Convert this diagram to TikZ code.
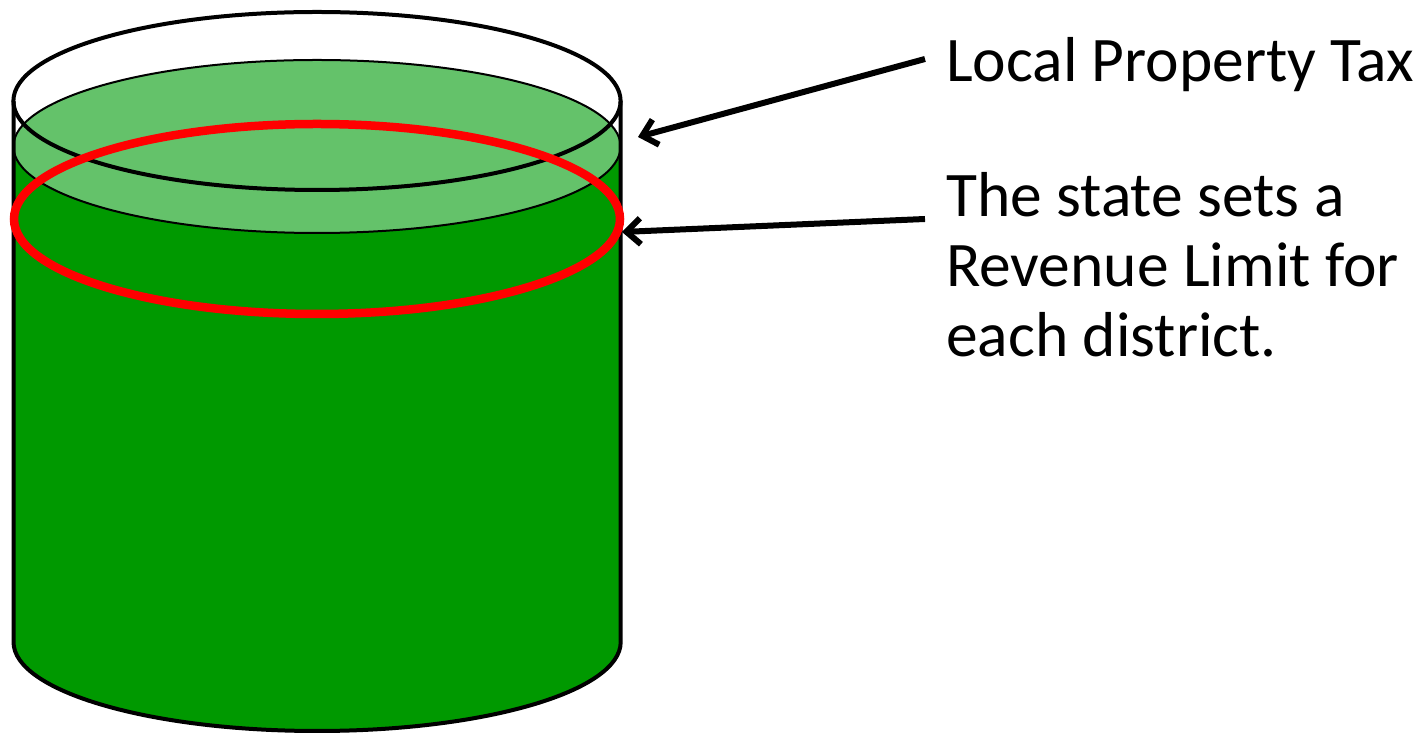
\documentclass[tikz,border=0pt]{standalone}
\usepackage{fontspec}
\setmainfont{Carlito}
\usetikzlibrary{arrows.meta}
\definecolor{dkgreen}{RGB}{0,153,0}
\definecolor{ltgreen}{RGB}{100,194,106}
\definecolor{limitred}{RGB}{255,0,0}
\tikzset{
  rim/.style={draw=black,line width=4pt},
  pointer/.style={draw=black,line width=6pt,-{Straight Barb[length=14pt,width=26pt]}},
  label/.style={inner sep=0pt,anchor=base west,align=left,font=\fontsize{63.5}{70}\selectfont}
}
\begin{document}
\begin{tikzpicture}[x=1pt,y=1pt]
\useasboundingbox (0,0) rectangle (1424,733);
% liquid body
\fill[dkgreen] (13.5,586.5) -- (13.5,91) arc[start angle=180,end angle=360,x radius=303.6pt,y radius=89pt] -- (620.6,586.5) -- cycle;
% liquid surface
\draw[fill=ltgreen,line width=2pt] (317,586.5) ellipse[x radius=303.6pt,y radius=86.5pt];
% cylinder sides and bottom
\draw[rim,line join=round] (13.5,632) -- (13.5,91) arc[start angle=180,end angle=360,x radius=303.6pt,y radius=89pt] -- (620.6,632);
% cylinder top rim
\draw[rim] (317,632) ellipse[x radius=303.6pt,y radius=89pt];
% revenue limit
\draw[limitred,line width=8.5pt] (317,514) ellipse[x radius=303pt,y radius=95pt];
% labels
\node[label] (tax) at (946,651) {Local Property Tax};
\node[label] (limit) at (946,376) {The state sets a\\Revenue Limit for\\each district.};
\coordinate (taxfrom) at (925,674);
\coordinate (taxto) at (638,596);
\coordinate (limfrom) at (925,514);
\coordinate (limto) at (622,501);
\draw[pointer] (taxfrom) -- (taxto);
\draw[pointer] (limfrom) -- (limto);
\end{tikzpicture}
\end{document}
